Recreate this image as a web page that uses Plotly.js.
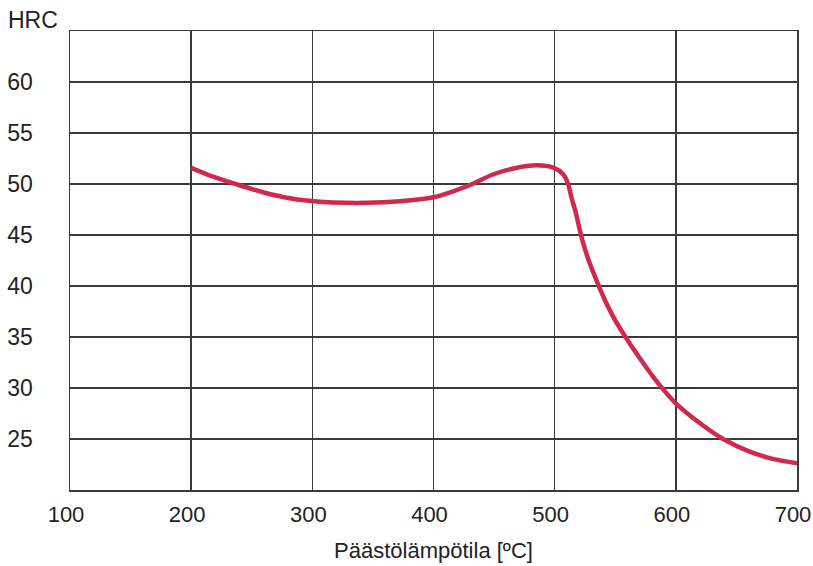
<!DOCTYPE html>
<html>
<head>
<meta charset="utf-8">
<script src="https://cdn.plot.ly/plotly-3.0.1.min.js"></script>
<style>html,body{margin:0;padding:0;background:#fff;}#chart{width:813px;height:566px;}</style>
</head>
<body>
<div id="chart"></div>
<script>
const temperature = [200, 218, 238, 260, 279, 297, 317, 345, 372, 400, 419, 433, 449, 466, 485, 499, 507, 511, 514, 517, 519.5, 523.6, 529, 534.7, 541.5, 548.4, 556.6, 570, 585.5, 600, 620, 639, 661, 680, 700];
const hardness    = [51.58, 50.72, 49.95, 49.17, 48.65, 48.35, 48.19, 48.15, 48.3, 48.7, 49.4, 50.05, 50.93, 51.52, 51.84, 51.6, 50.96, 50.05, 48.6, 47.4, 46.13, 44.17, 42.2, 40.5, 38.6, 36.98, 35.35, 32.97, 30.45, 28.5, 26.54, 25.0, 23.76, 23.05, 22.62];
const xTicks = [100, 200, 300, 400, 500, 600, 700];
const yTicks = [25, 30, 35, 40, 45, 50, 55, 60];
const xTitle = 'Päästölämpötila [ºC]';
const yTitle = 'HRC';

const fontFam = '"Liberation Sans", Arial, sans-serif';
const gridCol = '#3a3a3a';
const txtCol = '#222';

Plotly.newPlot('chart', [{
  x: temperature, y: hardness,
  type: 'scatter', mode: 'lines',
  line: {color: '#d0284f', width: 4.5, shape: 'spline', smoothing: 0.8},
  hoverinfo: 'skip'
}], {
  width: 813, height: 566,
  margin: {l: 70, r: 16, t: 31, b: 76},
  paper_bgcolor: '#fff', plot_bgcolor: '#fff',
  showlegend: false,
  font: {family: fontFam, size: 23, color: txtCol},
  xaxis: {
    range: [100, 700], tickvals: xTicks, ticktext: xTicks.map(String),
    showgrid: true, gridcolor: gridCol, gridwidth: 1.5,
    showline: true, linecolor: gridCol, linewidth: 1.5, mirror: true,
    ticks: '', ticklabelstandoff: 4, ticklabelshift: -4, ticklabeloverflow: 'allow', zeroline: false,
    tickfont: {family: fontFam, size: 22, color: txtCol},
    title: {text: xTitle, font: {family: fontFam, size: 22, color: txtCol}, standoff: 16}
  },
  yaxis: {
    range: [20, 65], tickvals: yTicks, ticktext: yTicks.map(String),
    showgrid: true, gridcolor: gridCol, gridwidth: 1.5,
    showline: true, linecolor: gridCol, linewidth: 1.5, mirror: true,
    ticks: '', ticklabelstandoff: 31, zeroline: false,
    tickfont: {family: fontFam, size: 23, color: txtCol}
  },
  annotations: [{
    text: yTitle, xref: 'paper', yref: 'paper', x: 0, y: 1,
    xanchor: 'right', yanchor: 'bottom', xshift: -10, yshift: -4,
    showarrow: false, font: {family: fontFam, size: 23, color: txtCol}
  }]
}, {staticPlot: true});
</script>
</body>
</html>
